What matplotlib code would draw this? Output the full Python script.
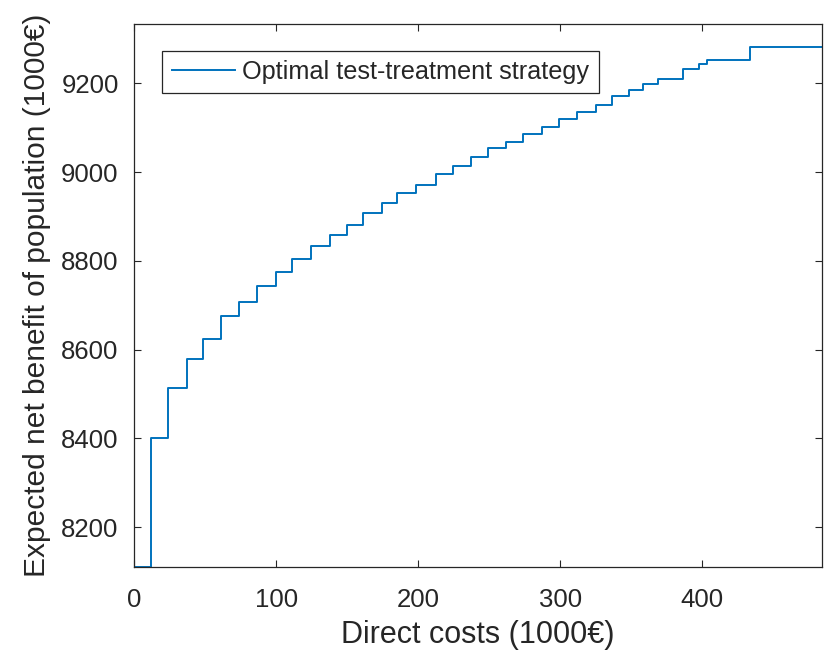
import matplotlib
matplotlib.use("Agg")
import matplotlib.pyplot as plt

plt.rcParams['font.family'] = ['Liberation Sans', 'DejaVu Sans']

# step positions (direct costs, 1000€) and net benefit levels (1000€)
direct_costs = [0, 11.8, 24.1, 37.1, 48.8, 61.0, 74.1, 86.8, 99.9, 111.4, 124.6, 137.9, 149.7,
                161.2, 174.3, 184.9, 198.2, 212.5, 224.3, 237.2, 248.9, 261.6, 274.0, 287.3,
                299.1, 311.5, 324.8, 336.6, 348.6, 358.0, 369.0, 386.4, 397.4, 403.4, 433.5, 484.2]
net_benefit = [8110, 8400, 8514, 8578, 8624, 8675, 8708, 8743, 8774, 8804, 8834, 8858, 8881,
               8907, 8930, 8953, 8972, 8995, 9014, 9034, 9054, 9068, 9087, 9102,
               9120, 9135, 9151, 9171, 9186, 9198, 9209, 9233, 9244, 9252, 9283, 9283]
x_ticks = [0, 100, 200, 300, 400]
y_ticks = [8200, 8400, 8600, 8800, 9000, 9200]

axis_color = '#262626'
line_color = '#0072BD'

fig = plt.figure(figsize=(8.24, 6.55), dpi=100)
ax = fig.add_axes([0.1626, 0.1344, 0.835, 0.829])

ax.step(direct_costs, net_benefit, where='post', color=line_color, linewidth=1.4,
        label='Optimal test-treatment strategy')

ax.set_xlim(0, 484.2)
ax.set_ylim(8110, 9334)
ax.set_xticks(x_ticks)
ax.set_yticks(y_ticks)

ax.tick_params(direction='in', length=5, width=0.8, top=True, right=True,
               colors=axis_color, labelsize=18.5)
ax.tick_params(axis='x', pad=15)
ax.tick_params(axis='y', pad=11)
for spine in ax.spines.values():
    spine.set_color(axis_color)
    spine.set_linewidth(0.9)

ax.set_xlabel('Direct costs (1000€)', fontsize=22, color=axis_color, labelpad=6)
ax.set_ylabel('Expected net benefit of population (1000€)', fontsize=21.5, color=axis_color, labelpad=7)

legend = ax.legend(loc='upper left', bbox_to_anchor=(0.0410, 0.951), borderaxespad=0,
                   fontsize=18.2, frameon=True, fancybox=False, framealpha=1,
                   handlelength=2.5, handletextpad=0.3, borderpad=0.37)
legend.get_frame().set_edgecolor(axis_color)
legend.get_frame().set_linewidth(0.9)
for text in legend.get_texts():
    text.set_color(axis_color)

fig.savefig('out.png', dpi=100)
